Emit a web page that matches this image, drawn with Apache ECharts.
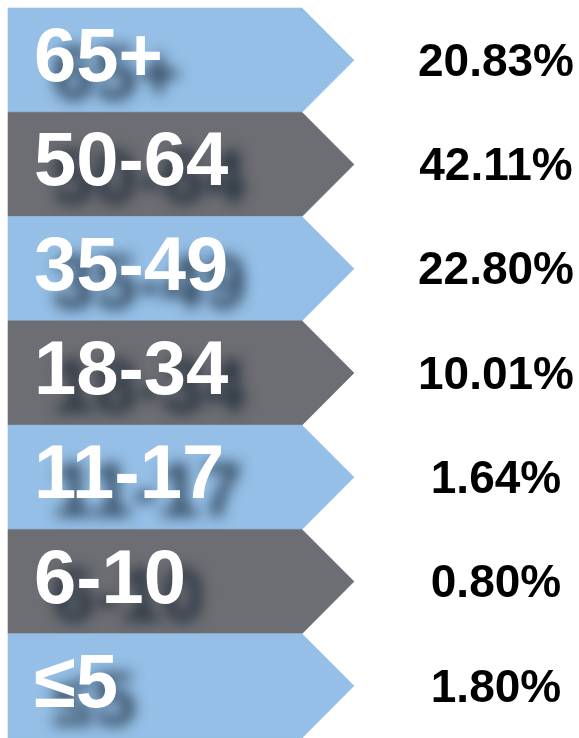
<!DOCTYPE html>
<html>
<head>
<meta charset="utf-8">
<title>Age groups</title>
<script src="https://cdn.jsdelivr.net/npm/echarts@6/dist/echarts.min.js"></script>
<style>
	html, body { margin: 0; padding: 0; background: #ffffff; }
	#main { width: 579px; height: 738px; }
</style>
</head>
<body>
<div id="main"></div>
<script>
// age groups, top to bottom
const ageGroups = ["65+", "50-64", "35-49", "18-34", "11-17", "6-10", "≤5"];
// share of each group, in percent
const shares = [20.83, 42.11, 22.8, 10.01, 1.64, 0.8, 1.8];
const bandColors = ["#95bfe6", "#6d6e73"]; // blue / grey, alternating

const chart = echarts.init(document.getElementById("main"));

const bodyWidth = 294; // straight part of the arrow
const tipWidth = 52; // pointed part

function renderArrow(params, api) {
	const idx = params.dataIndex;
	const center = api.coord([0, api.value(1)]);
	const h = api.size([0, 1])[1];
	const x0 = center[0];
	const yc = center[1];
	const top = yc - h / 2;
	const bottom = yc + h / 2;
	const color = bandColors[idx % 2];
	return {
		type: "group",
		children: [
			{
				type: "polygon",
				shape: {
					points: [
						[x0, top],
						[x0 + bodyWidth, top],
						[x0 + bodyWidth + tipWidth, yc],
						[x0 + bodyWidth, bottom],
						[x0, bottom],
					],
				},
				style: { fill: color, stroke: color, lineWidth: 0.6 },
			},
			{
				type: "text",
				style: {
					x: x0 + 26,
					y: yc,
					text: ageGroups[idx],
					fill: "#ffffff",
					font: "bold 76px 'Liberation Sans', Arial, sans-serif",
					textAlign: "left",
					textVerticalAlign: "middle",
					textShadowColor: "rgba(20,35,50,0.8)",
					textShadowBlur: 14,
					textShadowOffsetX: 18,
					textShadowOffsetY: 18,
				},
			},
			{
				type: "text",
				style: {
					x: x0 + 488,
					y: yc + 3,
					text: api.value(2).toFixed(2) + "%",
					fill: "#000000",
					font: "bold 46px 'Liberation Sans', Arial, sans-serif",
					textAlign: "center",
					textVerticalAlign: "middle",
				},
			},
		],
	};
}

const option = {
	animation: false,
	grid: { left: 8, top: 8, right: 0, bottom: 0 },
	xAxis: { type: "value", min: 0, max: 1, show: false },
	yAxis: {
		type: "category",
		data: ageGroups,
		inverse: true,
		show: false,
	},
	series: [
		{
			type: "custom",
			renderItem: renderArrow,
			encode: { x: 0, y: 1 },
			data: ageGroups.map((g, i) => [0, g, shares[i]]),
		},
	],
};
chart.setOption(option);
</script>
</body>
</html>
